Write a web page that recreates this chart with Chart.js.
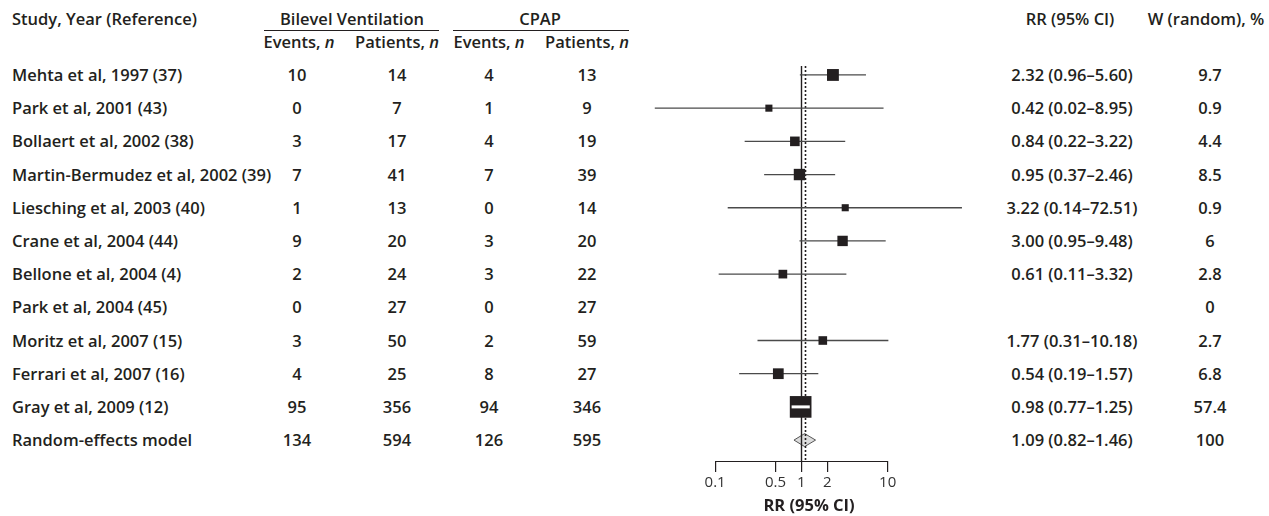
<!DOCTYPE html>
<html>
<head>
<meta charset="utf-8">
<script src="https://cdn.jsdelivr.net/npm/chart.js@4.4.1/dist/chart.umd.min.js"></script>
<style>
  html, body { margin: 0; padding: 0; background: #fff; }
  #page { position: relative; width: 1269px; height: 516px; overflow: hidden;
          font-family: 'Open Sans', sans-serif; font-weight: 600; font-size: 16.5px; color: #231f20; }
  .cell { position: absolute; white-space: nowrap; line-height: 1; transform: translate(-50%, -50%); }
  .cell.left { transform: translate(0, -50%); }
  .rule { position: absolute; height: 0; border-top: 1.3px solid #231f20; }
  #plot { position: absolute; left: 644px; top: 66px; width: 330px; height: 450px; }
</style>
</head>
<body>
<div id="page">
  <div id="plot"><canvas id="forest" width="330" height="450"></canvas></div>
</div>
<script>
// Study rows (last row is the pooled random-effects estimate)
const studies = [
  'Mehta et al, 1997 (37)', 'Park et al, 2001 (43)', 'Bollaert et al, 2002 (38)',
  'Martin-Bermudez et al, 2002 (39)', 'Liesching et al, 2003 (40)', 'Crane et al, 2004 (44)',
  'Bellone et al, 2004 (4)', 'Park et al, 2004 (45)', 'Moritz et al, 2007 (15)',
  'Ferrari et al, 2007 (16)', 'Gray et al, 2009 (12)', 'Random-effects model'
];
const bilevelEvents = [10, 0, 3, 7, 1, 9, 2, 0, 3, 4, 95, 134];
const bilevelPatients = [14, 7, 17, 41, 13, 20, 24, 27, 50, 25, 356, 594];
const cpapEvents = [4, 1, 4, 7, 0, 3, 3, 0, 2, 8, 94, 126];
const cpapPatients = [13, 9, 19, 39, 14, 20, 22, 27, 59, 27, 346, 595];
const rr = [2.32, 0.42, 0.84, 0.95, 3.22, 3.00, 0.61, null, 1.77, 0.54, 0.98, 1.09];
const rrLow = [0.96, 0.02, 0.22, 0.37, 0.14, 0.95, 0.11, null, 0.31, 0.19, 0.77, 0.82];
const rrHigh = [5.60, 8.95, 3.22, 2.46, 72.51, 9.48, 3.32, null, 10.18, 1.57, 1.25, 1.46];
const weights = [9.7, 0.9, 4.4, 8.5, 0.9, 6, 2.8, 0, 2.7, 6.8, 57.4, 100];
const axisTicks = [0.1, 0.5, 1, 2, 10];

const pooled = studies.length - 1;
const ink = '#231f20';

// --- Text table ---
const page = document.getElementById('page');
const rowY = i => 75 + i * 33.2;

function addCell(html, x, y, left) {
    const el = document.createElement('div');
    el.className = left ? 'cell left' : 'cell';
    el.style.left = x + 'px';
    el.style.top = y + 'px';
    el.innerHTML = html;
    page.appendChild(el);
}
function addRule(x1, x2, y) {
    const el = document.createElement('div');
    el.className = 'rule';
    el.style.left = x1 + 'px';
    el.style.width = (x2 - x1) + 'px';
    el.style.top = y + 'px';
    page.appendChild(el);
}

addCell('Study, Year (Reference)', 12, 19, true);
addCell('Bilevel Ventilation', 352, 19);
addCell('CPAP', 540, 19);
addRule(264, 439, 30);
addRule(453, 629, 30);
addCell('Events, <i>n</i>', 299, 42);
addCell('Patients, <i>n</i>', 397, 42);
addCell('Events, <i>n</i>', 489, 42);
addCell('Patients, <i>n</i>', 587, 42);
addCell('RR (95% CI)', 1070, 19);
addCell('W (random), %', 1206, 19);

const fmt = v => v.toFixed(2);
studies.forEach((name, i) => {
    const y = rowY(i);
    addCell(name, 12, y, true);
    addCell(bilevelEvents[i], 297, y);
    addCell(bilevelPatients[i], 397, y);
    addCell(cpapEvents[i], 489, y);
    addCell(cpapPatients[i], 587, y);
    if (rr[i] !== null) addCell(`${fmt(rr[i])} (${fmt(rrLow[i])}–${fmt(rrHigh[i])})`, 1072, y);
    addCell(String(weights[i]), 1210, y);
});

// --- Forest plot ---
Chart.defaults.font.family = "'Open Sans', sans-serif";
Chart.defaults.color = ink;

const boxSide = w => 5 + 2.2 * Math.sqrt(w);
const studyRows = studies.map((_, i) => i).filter(i => i !== pooled && rr[i] !== null);
const biggest = studyRows.reduce((a, b) => (weights[b] > weights[a] ? b : a));

// Chart.js paints the first dataset on top, so order is: white inner CI, boxes, CI lines
const ciSets = studyRows.map(i => ({
    type: 'line',
    data: [{ x: rrLow[i], y: i }, { x: rrHigh[i], y: i }],
    borderColor: '#4a4a4a',
    borderWidth: 1.3,
    pointRadius: 0
}));

const forestExtras = {
    id: 'forestExtras',
    beforeDatasetsDraw(chart) {
        const { ctx, chartArea, scales: { x, y } } = chart;
        // pooled diamond
        const cy = y.getPixelForValue(pooled);
        ctx.save();
        ctx.beginPath();
        ctx.moveTo(x.getPixelForValue(rrLow[pooled]), cy);
        ctx.lineTo(x.getPixelForValue(rr[pooled]), cy - 6.5);
        ctx.lineTo(x.getPixelForValue(rrHigh[pooled]), cy);
        ctx.lineTo(x.getPixelForValue(rr[pooled]), cy + 6.5);
        ctx.closePath();
        ctx.fillStyle = '#dcdcdc';
        ctx.fill();
        ctx.strokeStyle = '#555';
        ctx.lineWidth = 1;
        ctx.stroke();
        // line of no effect
        const x1 = Math.round(x.getPixelForValue(1)) + 0.5;
        ctx.beginPath();
        ctx.moveTo(x1, chartArea.top);
        ctx.lineTo(x1, chartArea.bottom);
        ctx.strokeStyle = ink;
        ctx.lineWidth = 1.4;
        ctx.stroke();
        // pooled estimate (dotted)
        const xp = Math.round(x.getPixelForValue(rr[pooled])) + 0.5;
        ctx.beginPath();
        ctx.setLineDash([2, 2]);
        ctx.moveTo(xp, chartArea.top);
        ctx.lineTo(xp, chartArea.bottom);
        ctx.lineWidth = 1.6;
        ctx.stroke();
        ctx.restore();
    },
    afterDraw(chart) {
        const { ctx, chartArea, scales: { x } } = chart;
        ctx.save();
        ctx.beginPath();
        ctx.moveTo(x.getPixelForValue(axisTicks[0]), chartArea.bottom + 0.5);
        ctx.lineTo(x.getPixelForValue(axisTicks[axisTicks.length - 1]), chartArea.bottom + 0.5);
        ctx.strokeStyle = ink;
        ctx.lineWidth = 1.2;
        ctx.stroke();
        ctx.restore();
    }
};

new Chart(document.getElementById('forest'), {
    type: 'scatter',
    data: {
        datasets: [
            {
                // CI of the heaviest study sits inside its box
                type: 'line',
                data: [{ x: rrLow[biggest], y: biggest }, { x: rrHigh[biggest], y: biggest }],
                borderColor: '#fff',
                borderWidth: 3,
                pointRadius: 0
            },
            {
                type: 'scatter',
                data: studyRows.map(i => ({ x: rr[i], y: i, w: weights[i] })),
                pointStyle: 'rect',
                pointRadius: c => boxSide(c.raw.w) / Math.SQRT2,
                backgroundColor: ink,
                borderWidth: 0
            },
            ...ciSets
        ]
    },
    options: {
        responsive: false,
        animation: false,
        events: [],
        layout: { padding: 0, autoPadding: false },
        plugins: { legend: { display: false }, tooltip: { enabled: false } },
        scales: {
            x: {
                type: 'logarithmic',
                min: 0.015,
                max: 100,
                border: { display: false },
                grid: { drawOnChartArea: false, tickLength: 11, tickColor: ink, lineWidth: 1.2 },
                afterBuildTicks: s => { s.ticks = axisTicks.map(v => ({ value: v })); },
                afterFit: s => { s.height = 55; },
                ticks: {
                    autoSkip: false, maxRotation: 0, padding: 2,
                    color: '#333', font: { size: 15 },
                    callback: v => String(v)
                },
                title: { display: true, text: 'RR (95% CI)', font: { size: 16.5, weight: '700' }, padding: { top: 2, bottom: 0 } }
            },
            y: { type: 'linear', min: -0.27, max: 11.63, reverse: true, display: false }
        }
    },
    plugins: [forestExtras]
});
</script>
</body>
</html>
